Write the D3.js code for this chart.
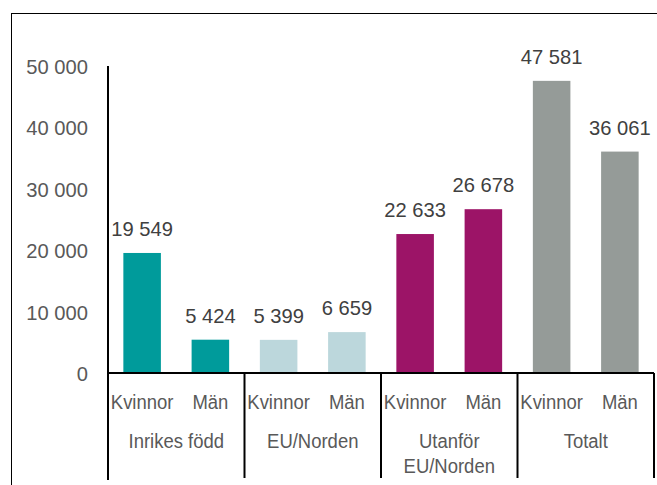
<!DOCTYPE html>
<html>
<head>
<meta charset="utf-8">
<script src="https://cdn.jsdelivr.net/npm/d3@7"></script>
<style>
  body { margin: 0; background: #fff; }
  text { font-family: "Liberation Sans Narrow", "Arial Narrow", "Liberation Sans", sans-serif; fill: #595959; font-size: 21px; }
</style>
</head>
<body>
<div id="chart"></div>
<script>
// Chart data
var groups = ["Inrikes född", "EU/Norden", "Utanför EU/Norden", "Totalt"];
var groupLabels = [["Inrikes född"], ["EU/Norden"], ["Utanför", "EU/Norden"], ["Totalt"]];
var sexes = ["Kvinnor", "Män"];
var values = [19549, 5424, 5399, 6659, 22633, 26678, 47581, 36061];
var groupColors = ["#009b9b", "#bcd7dc", "#9c1467", "#959b98"];
var yTicks = [0, 10000, 20000, 30000, 40000, 50000];

var svgWidth = 657;
var svgHeight = 485;
var squeezeNum = 0.96;  // numbers
var squeezeWord = 0.88; // words, narrow font look

var svg = d3.select("#chart")
    .append("svg")
    .attr("width", svgWidth)
    .attr("height", svgHeight);

// Outer frame (cut off at right and bottom)
svg.append("rect")
    .attr("x", 11.5)
    .attr("y", 13.5)
    .attr("width", 700)
    .attr("height", 500)
    .attr("fill", "none")
    .attr("stroke", "#000")
    .attr("stroke-width", 1);

var plotLeft = 108, plotRight = 654, zeroY = 373;

// Build flat rows
var rows = [];
groups.forEach(function(g, gi) {
    sexes.forEach(function(s, si) {
        rows.push({ group: g, gi: gi, sex: s, key: gi + "-" + si, value: values[gi * 2 + si] });
    });
});

var xScale = d3.scaleBand()
    .domain(rows.map(d => d.key))
    .range([plotLeft, plotRight])
    .paddingInner(0.45)
    .paddingOuter(0.225);

var groupScale = d3.scaleBand()
    .domain(groups)
    .range([plotLeft, plotRight]);

var yScale = d3.scaleLinear()
    .domain([0, 50000])
    .range([zeroY, 66]);

var fmt = function(v) { return d3.format(",")(v).replace(/,/g, " "); };
var place = (x, y, s) => `translate(${x},${y}) scale(${s},1)`;

// Y tick labels
svg.append("g").selectAll("text")
    .data(yTicks)
    .enter()
    .append("text")
    .attr("transform", d => place(88, yScale(d) + 8, squeezeNum))
    .attr("text-anchor", "end")
    .text(d => fmt(d));

// Bars
svg.append("g").selectAll("rect")
    .data(rows)
    .enter()
    .append("rect")
    .attr("x", d => xScale(d.key))
    .attr("y", d => yScale(d.value))
    .attr("width", xScale.bandwidth())
    .attr("height", d => zeroY - yScale(d.value))
    .attr("fill", d => groupColors[d.gi]);

// Value labels
svg.append("g").selectAll("text")
    .data(rows)
    .enter()
    .append("text")
    .attr("transform", d => place(xScale(d.key) + xScale.bandwidth() / 2, yScale(d.value) - 17, squeezeNum))
    .attr("text-anchor", "middle")
    .style("fill", "#404040")
    .text(d => fmt(d.value));

// Y axis line
svg.append("line")
    .attr("x1", plotLeft).attr("x2", plotLeft)
    .attr("y1", 66).attr("y2", 480)
    .attr("stroke", "#000").attr("stroke-width", 2);

// Zero line
svg.append("line")
    .attr("x1", plotLeft).attr("x2", plotRight)
    .attr("y1", zeroY).attr("y2", zeroY)
    .attr("stroke", "#000").attr("stroke-width", 2);

// Group separators
svg.append("g").selectAll("line")
    .data(groups.slice(1).concat(["end"]))
    .enter()
    .append("line")
    .attr("x1", (d, i) => i < 3 ? groupScale(d) : plotRight)
    .attr("x2", (d, i) => i < 3 ? groupScale(d) : plotRight)
    .attr("y1", zeroY)
    .attr("y2", 478)
    .attr("stroke", "#000")
    .attr("stroke-width", 2);

// Category labels
svg.append("g").selectAll("text")
    .data(rows)
    .enter()
    .append("text")
    .attr("transform", d => place(xScale(d.key) + xScale.bandwidth() / 2, 409, squeezeWord))
    .attr("text-anchor", "middle")
    .text(d => d.sex);

// Group labels
var gl = svg.append("g").selectAll("text")
    .data(groups)
    .enter()
    .append("text")
    .attr("transform", d => place(groupScale(d) + groupScale.bandwidth() / 2, 448, squeezeWord))
    .attr("text-anchor", "middle");

gl.selectAll("tspan")
    .data((d, i) => groupLabels[i])
    .enter()
    .append("tspan")
    .attr("x", 0)
    .attr("dy", (d, i) => i === 0 ? 0 : 25)
    .text(d => d);
</script>
</body>
</html>
